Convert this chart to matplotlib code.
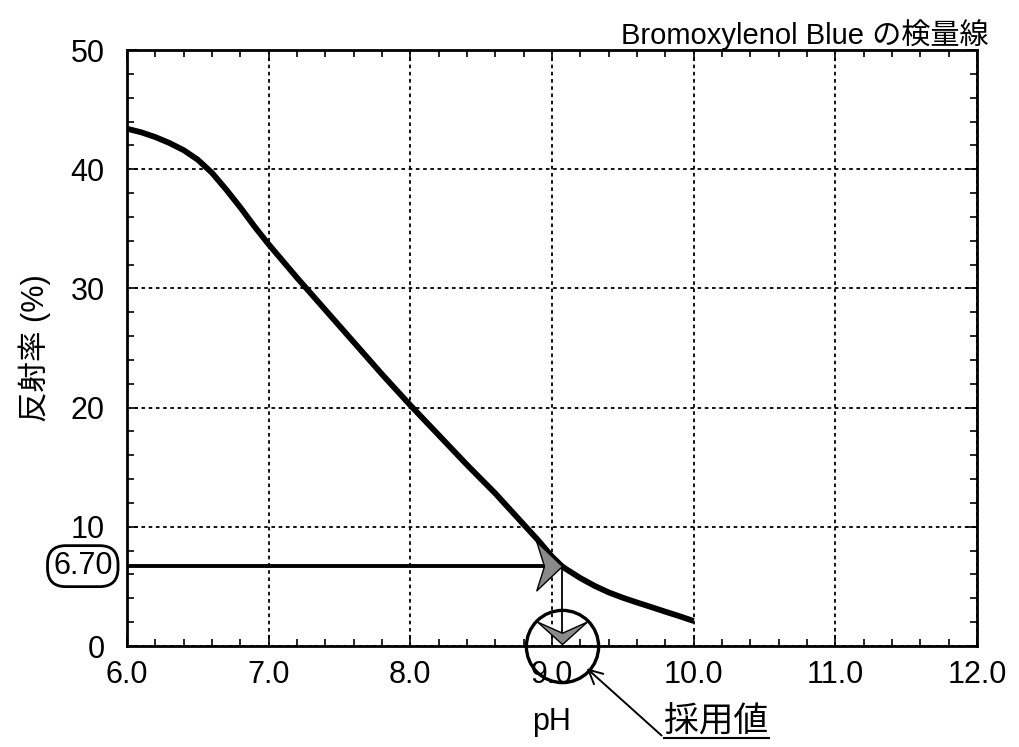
import numpy as np
import matplotlib.pyplot as plt
from matplotlib.path import Path
from matplotlib.lines import Line2D
from matplotlib.text import Text
from matplotlib.ticker import MultipleLocator, FormatStrFormatter

plt.rcParams['font.family'] = ['Liberation Sans', 'Noto Sans CJK JP']

# calibration curve: pH vs reflectance (%)
ph = [6.0, 6.1, 6.2, 6.3, 6.4, 6.5, 6.6, 6.7, 6.8, 6.9, 7.0, 7.1, 7.2,
      7.4, 7.6, 7.8, 8.0, 8.2, 8.4, 8.6, 8.7, 8.8, 8.9, 9.0, 9.07,
      9.1, 9.2, 9.3, 9.4, 9.5, 9.6, 9.7, 9.8, 9.9, 10.0]
reflectance = [43.4, 43.1, 42.7, 42.2, 41.6, 40.8, 39.7, 38.3, 36.8, 35.2,
               33.7, 32.3, 30.9, 28.2, 25.5, 22.8, 20.2, 17.7, 15.2, 12.8,
               11.5, 10.2, 8.9, 7.5, 6.7, 6.45, 5.7, 5.05, 4.5, 4.05, 3.65,
               3.27, 2.88, 2.5, 2.1]

measured = 6.70      # measured reflectance
ph_read = 9.07       # pH

title = 'Bromoxylenol Blue の検量線'
xlabel = 'pH'
ylabel = '反射率 (%)'
note = '採用値'

fig = plt.figure(figsize=(10.19, 7.47), dpi=100)
ax = fig.add_axes([0.1246, 0.1352, 0.8342, 0.7978])

ax.set_xlim(6, 12)
ax.set_ylim(0, 50)
ax.xaxis.set_major_locator(MultipleLocator(1))
ax.xaxis.set_minor_locator(MultipleLocator(0.2))
ax.yaxis.set_major_locator(MultipleLocator(10))
ax.yaxis.set_minor_locator(MultipleLocator(2))
ax.xaxis.set_major_formatter(FormatStrFormatter('%.1f'))
ax.yaxis.set_major_formatter(FormatStrFormatter('%d'))

ax.tick_params(which='both', direction='in', top=True, right=True,
               colors='black', labelsize=22, width=1.2)
ax.tick_params(which='major', length=8)
ax.tick_params(which='minor', length=5)
ax.tick_params(axis='y', pad=16)
ax.tick_params(axis='x', pad=10)
for s in ax.spines.values():
    s.set_linewidth(2)

ax.grid(True, which='major', color='black', linestyle=(0, (2, 2)), linewidth=1.3)

ax.set_xlabel(xlabel, fontsize=22, labelpad=12)
ax.set_ylabel(ylabel, fontsize=22, labelpad=14)

# calibration curve
ax.plot(ph, reflectance, color='black', linewidth=4.2, solid_joinstyle='round',
        solid_capstyle='butt', zorder=3)

# reading arrows
ax.plot([6, ph_read - 0.12], [measured, measured], color='black', linewidth=2.8, zorder=3)
ax.plot([ph_read, ph_read], [measured, 0.5], color='black', linewidth=1.3, zorder=3)

head_right = Path([(0, 0), (-1.0, 0.95), (-0.7, 0), (-1.0, -0.95), (0, 0)],
                  [Path.MOVETO, Path.LINETO, Path.LINETO, Path.LINETO, Path.CLOSEPOLY])
head_down = Path([(0, 0), (-1.0, 0.9), (0, 0.45), (1.0, 0.9), (0, 0)],
                 [Path.MOVETO, Path.LINETO, Path.LINETO, Path.LINETO, Path.CLOSEPOLY])
ax.plot([ph_read], [measured], marker=head_right, markersize=37,
        markerfacecolor='#8a8a8a', markeredgecolor='black', markeredgewidth=1,
        linestyle='none', zorder=4, clip_on=False)
ax.plot([ph_read], [0.2], marker=head_down, markersize=36,
        markerfacecolor='#8a8a8a', markeredgecolor='black', markeredgewidth=1,
        linestyle='none', zorder=4, clip_on=False)

# circle around the adopted value
ax.plot([ph_read], [0], marker='o', markersize=52, markerfacecolor='none',
        markeredgecolor='black', markeredgewidth=2.4, linestyle='none',
        zorder=4, clip_on=False)

# measured value tag on the y axis
ax.text(-0.017, measured, f'{measured:.2f}', transform=ax.get_yaxis_transform(),
        ha='right', va='center', fontsize=22,
        bbox=dict(boxstyle='round,pad=0.18,rounding_size=0.6', fc='white',
                  ec='black', lw=2))

# title at the top right
fig.text(0.970, 0.975, title, ha='right', va='top', fontsize=21)

# adopted value note
ann = ax.annotate(note, xy=(ph_read, 0), xycoords='data',
                  xytext=(0.652, 0.012), textcoords='figure fraction',
                  fontsize=25, ha='left', va='bottom',
                  arrowprops=dict(arrowstyle='->', color='black', lw=1.4,
                                  relpos=(0, 0), shrinkA=0, shrinkB=24),
                  annotation_clip=False)

fig.canvas.draw()
bb = Text.get_window_extent(ann, fig.canvas.get_renderer())
fig.add_artist(Line2D([bb.x0, bb.x1], [bb.y0, bb.y0], color='black', linewidth=1.5,
                      transform=None))

fig.savefig('out.png', dpi=100)
